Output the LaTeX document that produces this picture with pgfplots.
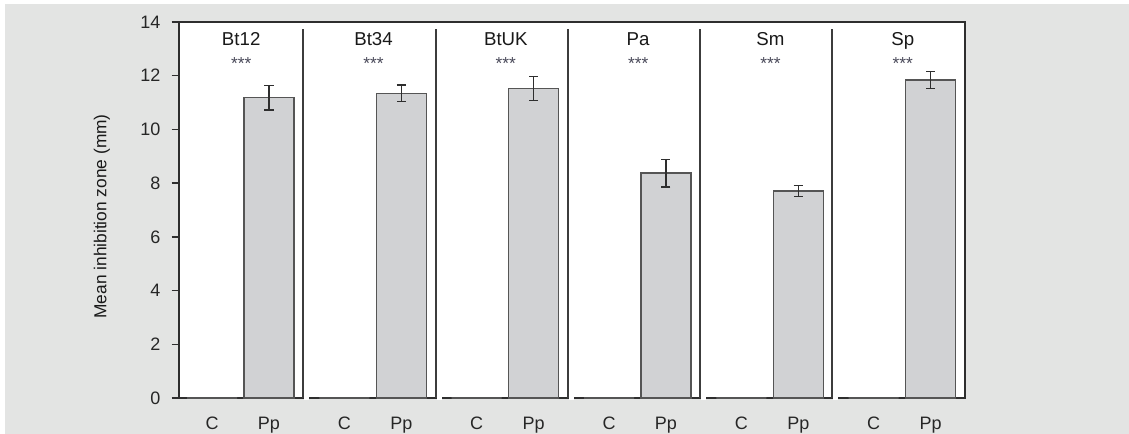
\documentclass[border=0pt]{standalone}
\usepackage{pgfplots}
\pgfplotsset{compat=1.18}
\usepackage{fontspec}
\setmainfont{Liberation Sans}
\definecolor{bggray}{HTML}{E3E4E3}
\definecolor{barfill}{HTML}{D1D2D4}
\definecolor{bardraw}{HTML}{555555}
\definecolor{frame}{HTML}{2E2E2E}
\definecolor{divcol}{HTML}{3C3C3C}
\definecolor{astcol}{HTML}{4A4A5A}
\begin{document}
\begin{tikzpicture}
\useasboundingbox (-134.25pt,-27pt) rectangle (712.5pt,298.5pt);
\fill[white] (-134.25pt,-27pt) rectangle (712.5pt,298.5pt);
\fill[bggray] (-130.5pt,-27pt) rectangle (712.5pt,295.5pt);
\fill[white] (0,0) rectangle (589.5pt,282pt);
\begin{axis}[
  at={(0,0)}, anchor=south west,
  scale only axis,
  width=589.5pt, height=282pt,
  xmin=0, xmax=5.94, ymin=0, ymax=14,
  axis line style={frame, line width=1.5pt},
  ytick={0,2,...,14},
  xtick={0.25,0.68,1.25,1.68,2.25,2.68,3.25,3.68,4.25,4.68,5.25,5.68},
  xticklabels={C,Pp,C,Pp,C,Pp,C,Pp,C,Pp,C,Pp},
  xtick style={draw=none},
  ytick style={frame, line width=1pt},
  tick align=outside,
  major tick length=5.5pt,
  ytick pos=left,
  /pgf/number format/assume math mode=true,
  tick label style={font=\fontsize{13.5}{16}\selectfont, text=black!85},
  yticklabel style={xshift=-5pt},
  xticklabel style={yshift=-5.5pt},
  ylabel={Mean inhibition zone (mm)},
  ylabel style={at={(axis description cs:-0.098,0.483)}, anchor=center, font=\fontsize{13}{15}\selectfont, text=black!90},
  clip=false,
]
% Control (C): zero inhibition
\addplot[ybar, bar width=37.5pt, bar shift=0pt, draw=bardraw, line width=0.8pt, fill=barfill]
  coordinates {(0.25,0) (1.25,0) (2.25,0) (3.25,0) (4.25,0) (5.25,0)};
% Pp treatment
\addplot[ybar, bar width=37.5pt, bar shift=0pt, draw=bardraw, line width=1.1pt, fill=barfill,
  error bars/.cd, y dir=both, y explicit,
  error bar style={line width=1pt, color=frame},
  error mark options={rotate=90, mark size=3.4pt, line width=1pt, color=frame}]
  coordinates {
    (0.68,11.18) +- (0,0.46)
    (1.68,11.34) +- (0,0.31)
    (2.68,11.53) +- (0,0.45)
    (3.68,8.37) +- (0,0.52)
    (4.68,7.71) +- (0,0.21)
    (5.68,11.84) +- (0,0.32)
  };
% panel dividers
\draw[divcol, line width=1.5pt] (axis cs:0.938,0) -- (axis cs:0.938,13.74);
\draw[divcol, line width=1.5pt] (axis cs:1.939,0) -- (axis cs:1.939,13.74);
\draw[divcol, line width=1.5pt] (axis cs:2.940,0) -- (axis cs:2.940,13.74);
\draw[divcol, line width=1.5pt] (axis cs:3.938,0) -- (axis cs:3.938,13.74);
\draw[divcol, line width=1.5pt] (axis cs:4.936,0) -- (axis cs:4.936,13.74);
% gaps in baseline
\draw[white, line width=2.5pt] (axis cs:0.948,0) -- (axis cs:0.985,0);
\draw[white, line width=2.5pt] (axis cs:1.949,0) -- (axis cs:1.986,0);
\draw[white, line width=2.5pt] (axis cs:2.950,0) -- (axis cs:2.987,0);
\draw[white, line width=2.5pt] (axis cs:3.948,0) -- (axis cs:3.985,0);
\draw[white, line width=2.5pt] (axis cs:4.946,0) -- (axis cs:4.983,0);
% titles
\foreach \x/\t in {0.47/Bt12,1.47/Bt34,2.47/BtUK,3.47/Pa,4.47/Sm,5.47/Sp}{
  \edef\tmp{\noexpand\node[anchor=base, font=\noexpand\fontsize{14}{16}\noexpand\selectfont, text=black!90] at (axis cs:\x,13.12) {\t};
  \noexpand\node[anchor=base, font=\noexpand\fontsize{13}{15}\noexpand\selectfont, text=astcol] at (axis cs:\x,12.22) {***};}
  \tmp
}
\end{axis}
\end{tikzpicture}
\end{document}
